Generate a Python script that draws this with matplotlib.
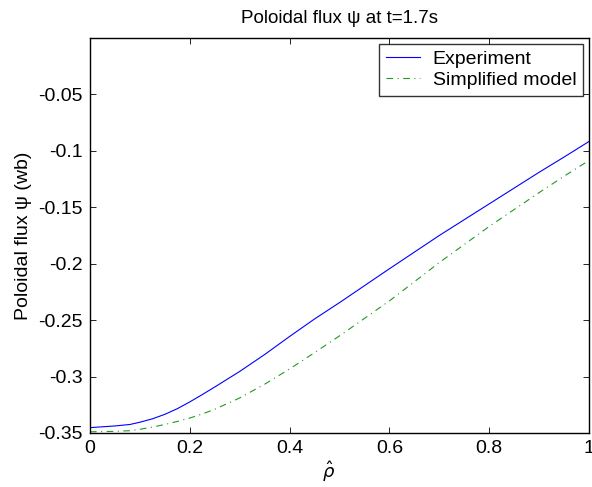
import numpy as np
import matplotlib
matplotlib.use('Agg')
import matplotlib.pyplot as plt

plt.rcParams['font.family'] = ['Liberation Sans', 'DejaVu Sans']
plt.rcParams['mathtext.fontset'] = 'dejavusans'

rho = [0.0, 0.05, 0.08, 0.1, 0.125, 0.15, 0.175, 0.2, 0.225, 0.25, 0.3, 0.35, 0.4, 0.45,
       0.5, 0.6, 0.7, 0.8, 0.9, 0.95, 1.0]
psi_exp = [-0.3453, -0.3438, -0.3425, -0.3405, -0.3375, -0.3335, -0.3285, -0.3225, -0.316,
           -0.3093, -0.2955, -0.2805, -0.2645, -0.249,
           -0.2345, -0.2045, -0.175, -0.147, -0.119, -0.1055, -0.0917]
psi_model = [-0.349, -0.3486, -0.348, -0.3468, -0.3448, -0.3425, -0.3398, -0.3368, -0.3332,
             -0.329, -0.319, -0.3068, -0.2933, -0.2788,
             -0.264, -0.233, -0.199, -0.167, -0.137, -0.1225, -0.1085]

yticks = [-0.35, -0.3, -0.25, -0.2, -0.15, -0.1, -0.05]
yticklabels = ['-0.35', '-0.3', '-0.25', '-0.2', '-0.15', '-0.1', '-0.05']
xticks = [0, 0.2, 0.4, 0.6, 0.8, 1]
xticklabels = ['0', '0.2', '0.4', '0.6', '0.8', '1']

fig = plt.figure(figsize=(5.92, 4.87), dpi=100)
ax = fig.add_axes([0.152, 0.111, 0.843, 0.811])

ax.plot(rho, psi_exp, color='#0000ff', lw=0.8, label='Experiment')
ax.plot(rho, psi_model, color='#229922', lw=0.8, dashes=(6, 4, 1, 4), label='Simplified model')

ax.set_xlim(0, 1)
ax.set_ylim(-0.35, 0)
ax.set_xticks(xticks)
ax.set_xticklabels(xticklabels)
ax.set_yticks(yticks)
ax.set_yticklabels(yticklabels)
ax.tick_params(direction='in', top=True, right=True, labelsize=14, length=4, width=0.6, pad=5)
for s in ax.spines.values():
    s.set_linewidth(1.0)

ax.set_title('Poloidal flux \u03c8 at t=1.7s', fontsize=13.5, pad=11)
ax.set_ylabel('Poloidal flux \u03c8 (wb)', fontsize=14, labelpad=5)
ax.set_xlabel(r'$\hat{\rho}$', fontsize=13, labelpad=0)
ax.xaxis.set_label_coords(0.478, -0.067)

leg = ax.legend(loc='upper right', fontsize=14, frameon=True, fancybox=False,
                borderpad=0.35, handlelength=1.75, handletextpad=0.65,
                labelspacing=0.15, borderaxespad=0.3)
leg.get_frame().set_edgecolor('black')
leg.get_frame().set_linewidth(1.0)

fig.savefig('out.png', dpi=100)
